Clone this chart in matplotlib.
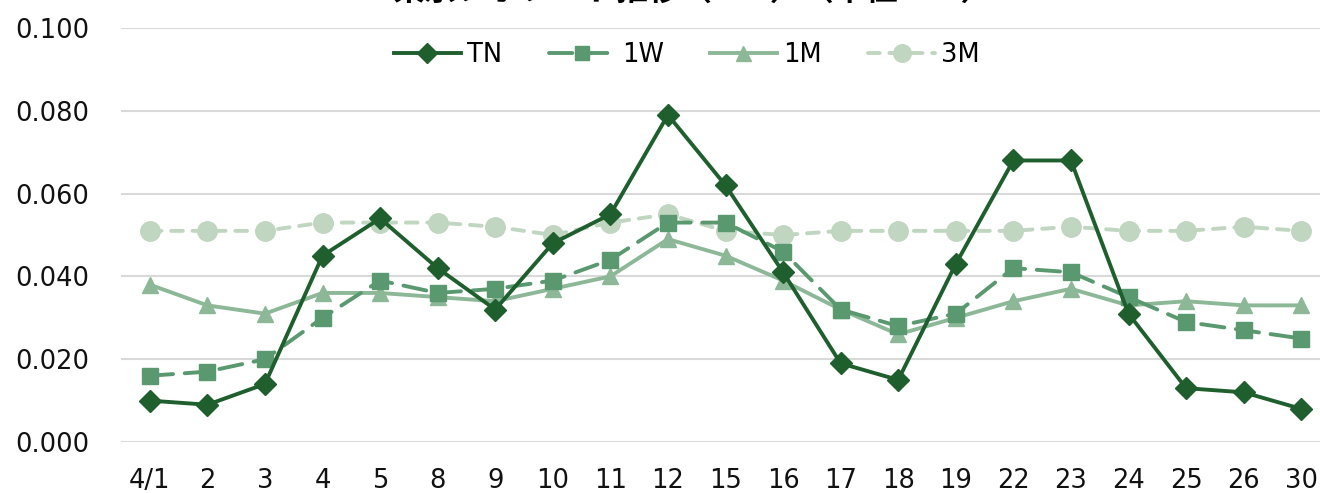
import matplotlib.pyplot as plt

# data
dates = ['4/1', '2', '3', '4', '5', '8', '9', '10', '11', '12', '15',
         '16', '17', '18', '19', '22', '23', '24', '25', '26', '30']
tn = [0.010, 0.009, 0.014, 0.045, 0.054, 0.042, 0.032, 0.048, 0.055, 0.079, 0.062,
      0.041, 0.019, 0.015, 0.043, 0.068, 0.068, 0.031, 0.013, 0.012, 0.008]
w1 = [0.016, 0.017, 0.020, 0.030, 0.039, 0.036, 0.037, 0.039, 0.044, 0.053, 0.053,
      0.046, 0.032, 0.028, 0.031, 0.042, 0.041, 0.035, 0.029, 0.027, 0.025]
m1 = [0.038, 0.033, 0.031, 0.036, 0.036, 0.035, 0.034, 0.037, 0.040, 0.049, 0.045,
      0.039, 0.032, 0.026, 0.030, 0.034, 0.037, 0.033, 0.034, 0.033, 0.033]
m3 = [0.051, 0.051, 0.051, 0.053, 0.053, 0.053, 0.052, 0.050, 0.053, 0.055, 0.051,
      0.050, 0.051, 0.051, 0.051, 0.051, 0.052, 0.051, 0.051, 0.052, 0.051]
yticks = [0.0, 0.02, 0.04, 0.06, 0.08, 0.10]

plt.rcParams['font.family'] = ['DejaVu Sans', 'Noto Sans CJK JP']

fig = plt.figure(figsize=(13.2, 4.93), dpi=100)
ax = fig.add_axes([121/1320, 1-442/493, (1330-121)/1320, (442-28)/493])

x = list(range(len(dates)))
ax.plot(x, m3, color='#c0d6c0', lw=2.8, ls=(0, (3, 2.5)), dash_capstyle='round',
        marker='o', ms=14, label='3M', zorder=2)
ax.plot(x, m1, color='#8db898', lw=2.8, marker='^', ms=12, label='1M', zorder=3)
ax.plot(x, w1, color='#5a9970', lw=2.8, ls=(0, (6, 3)), dash_capstyle='round',
        marker='s', ms=11, label='1W', zorder=4)
ax.plot(x, tn, color='#1f5f2e', lw=2.8, marker='D', ms=11, label='TN', zorder=5)

ax.set_xlim(-0.5, len(dates) - 0.5)
ax.set_ylim(0, 0.10)
ax.set_yticks(yticks)
ax.set_yticklabels(['%.3f' % v for v in yticks])
ax.set_xticks(x)
ax.set_xticklabels(dates)
ax.tick_params(length=0, labelsize=18.5, colors='#111111')
ax.tick_params(axis='y', pad=23)
ax.tick_params(axis='x', pad=19)
ax.grid(axis='y', color='#d9d9d9', lw=1.5)
for s in ax.spines.values():
    s.set_visible(False)
ax.set_axisbelow(True)

h, l = ax.get_legend_handles_labels()
order = [3, 2, 1, 0]
fig.legend([h[i] for i in order], [l[i] for i in order], loc='center',
           bbox_to_anchor=(687/1320, 1-55/493), ncol=4, frameon=False,
           fontsize=18.5, handlelength=2.6, columnspacing=1.8, handletextpad=0.25,
           markerscale=0.9)

fig.text(692/1320, 1+8/493, '東京レポレート推移（T+1）（単位：%）', ha='center', va='center',
         fontsize=23, fontweight='bold', family=['Noto Sans CJK JP', 'DejaVu Sans'])

fig.savefig('out.png', dpi=100)
